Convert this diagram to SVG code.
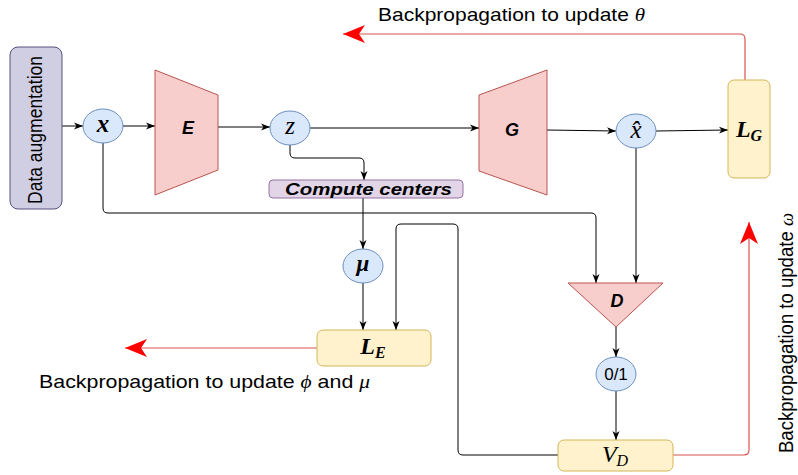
<svg xmlns="http://www.w3.org/2000/svg" width="798" height="475" viewBox="0 0 798 475">
<style>
.sans{font-family:"Liberation Sans",Arial,sans-serif;fill:#000}
.bi{font-family:"Liberation Sans",Arial,sans-serif;font-weight:bold;font-style:italic;fill:#000}
.math{font-family:"Liberation Serif","DejaVu Serif",serif;font-style:italic;fill:#000}
.trap{fill:#f8cecc;stroke:#b85450;stroke-width:1}
.ell{fill:#dae8fc;stroke:#6c8ebf;stroke-width:1}
.yel{fill:#fff2cc;stroke:#d6b656;stroke-width:1}
.blk{fill:none;stroke:#000;stroke-width:1;marker-end:url(#ab)}
.red{fill:none;stroke:#d9534f;stroke-width:1.2;marker-end:url(#ar)}
</style>
<defs>
<marker id="ab" markerUnits="userSpaceOnUse" viewBox="0 0 9 8" refX="9" refY="4" markerWidth="9" markerHeight="8" orient="auto">
<path d="M0,0.5 L9,4 L0,7.5 L2.5,4 Z" fill="#000"/>
</marker>
<marker id="ar" markerUnits="userSpaceOnUse" viewBox="0 0 22 20" refX="22" refY="10" markerWidth="22" markerHeight="20" orient="auto">
<path d="M0,1 L22,10 L0,19 L6,10 Z" fill="#ff0000"/>
</marker>
</defs>

<g id="connectors">
<path class="blk" d="M62,126 L83,126"/>
<path class="blk" d="M123,126 L155,126"/>
<path class="blk" d="M218,127 L270,127"/>
<path class="blk" d="M310,128 L479,128"/>
<path class="blk" d="M547,130 L616,131"/>
<path class="blk" d="M656,131 L728,130"/>
<path class="blk" d="M290,145 L290,153 Q290,158 295,158 L359,158 Q364,158 364,163 L364,180"/>
<path class="blk" d="M363,198 L363,249"/>
<path class="blk" d="M363,283 L363,330"/>
<path class="blk" d="M103,143 L103,208 Q103,213 108,213 L591,213 Q596,213 596,218 L596,283"/>
<path class="blk" d="M636,148 L636,283"/>
<path class="blk" d="M616,327 L616,357"/>
<path class="blk" d="M616,391 L616,440"/>
<path class="blk" d="M558,455 L463,455 Q458,455 458,450 L458,229 Q458,224 453,224 L401,224 Q396,224 396,229 L396,330"/>
<path class="red" d="M745,80 L745,39 Q745,34 740,34 L343,34"/>
<path class="red" d="M317,348 L125,348"/>
<path class="red" d="M673,455 L744,455 Q749,455 749,450 L749,222"/>
</g>

<g id="data-augmentation">
<rect x="10" y="47" width="52" height="162" rx="8" fill="#d0cee2" stroke="#56517e"/>
<text class="sans" font-size="17.5" text-anchor="middle" transform="translate(42,130) scale(1.13,1) rotate(-90)" textLength="148" lengthAdjust="spacingAndGlyphs">Data augmentation</text>
</g>

<g id="x">
<ellipse class="ell" cx="103" cy="126" rx="20" ry="17"/>
<text class="math" font-size="25" font-weight="bold" x="103" y="132" text-anchor="middle">x</text>
</g>

<g id="E">
<polygon class="trap" points="155,70 218,95 218,170 155,195"/>
<text class="bi" font-size="18" x="188" y="134" text-anchor="middle">E</text>
</g>

<g id="z">
<ellipse class="ell" cx="290" cy="128" rx="20" ry="17"/>
<text class="math" font-size="25" x="290" y="134" text-anchor="middle">z</text>
</g>

<g id="G">
<polygon class="trap" points="479,95 547,70 547,195 479,171"/>
<text class="bi" font-size="18" x="512" y="136" text-anchor="middle">G</text>
</g>

<g id="xhat">
<ellipse class="ell" cx="636" cy="131" rx="20" ry="17"/>
<text class="math" font-size="25" x="636" y="138" text-anchor="middle">x̂</text>
</g>

<g id="LG">
<rect class="yel" x="728" y="80" width="42" height="98" rx="6"/>
<text class="math" font-size="24" font-weight="bold" x="749" y="137" text-anchor="middle">L<tspan font-size="16" dy="4">G</tspan></text>
</g>

<g id="compute-centers">
<rect x="269" y="180" width="194" height="18" rx="4" fill="#e1d5e7" stroke="#9673a6"/>
<text class="bi" font-size="17" x="285" y="195" textLength="167" lengthAdjust="spacingAndGlyphs">Compute centers</text>
</g>

<g id="mu">
<ellipse class="ell" cx="363" cy="266" rx="20" ry="17"/>
<text class="math" font-size="23" font-weight="bold" x="363" y="271" text-anchor="middle">μ</text>
</g>

<g id="LE">
<rect class="yel" x="317" y="330" width="114" height="36" rx="6"/>
<text class="math" font-size="24" font-weight="bold" x="373" y="354" text-anchor="middle">L<tspan font-size="16" dy="4">E</tspan></text>
</g>

<g id="D">
<polygon class="trap" points="568,283 663,283 616,327"/>
<text class="bi" font-size="18" x="617" y="307" text-anchor="middle">D</text>
</g>

<g id="zero-one">
<ellipse class="ell" cx="616" cy="374" rx="20" ry="17"/>
<text class="sans" font-size="17" x="616" y="380" text-anchor="middle">0/1</text>
</g>

<g id="VD">
<rect class="yel" x="558" y="440" width="115" height="31" rx="6"/>
<text class="math" font-size="24" x="615" y="462" text-anchor="middle">V<tspan font-size="16" dy="4">D</tspan></text>
</g>

<g id="labels">
<text class="sans" font-size="19" x="378" y="21" textLength="267" lengthAdjust="spacingAndGlyphs">Backpropagation to update <tspan class="math">θ</tspan></text>
<text class="sans" font-size="19" x="39" y="388" textLength="331" lengthAdjust="spacingAndGlyphs">Backpropagation to update <tspan class="math">ϕ</tspan> and <tspan class="math">μ</tspan></text>
<text class="sans" font-size="18" transform="translate(793,453) scale(1.1,1) rotate(-90)" textLength="240" lengthAdjust="spacingAndGlyphs">Backpropagation to update <tspan class="math">ω</tspan></text>
</g>
</svg>
